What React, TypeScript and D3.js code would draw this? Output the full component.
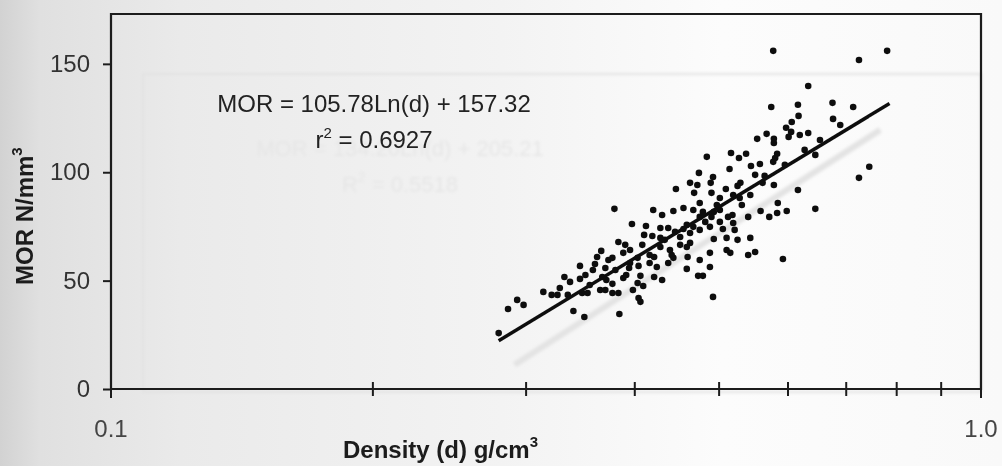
import React, { useEffect, useRef } from "react"
import * as d3 from "d3"

// points (density g/cm3, MOR N/mm2)
const density = [
	0.577, 0.724, 0.78, 0.633, 0.574, 0.616, 0.675, 0.713, 0.676, 0.617,
	0.606, 0.597, 0.605, 0.633, 0.619, 0.601, 0.567, 0.553, 0.578, 0.578,
	0.484, 0.516, 0.527, 0.537, 0.583, 0.58, 0.577, 0.645, 0.557, 0.544,
	0.514, 0.744, 0.724, 0.474, 0.492, 0.489, 0.463, 0.472, 0.446, 0.509,
	0.529, 0.525, 0.49, 0.468, 0.578, 0.616, 0.584, 0.558, 0.571, 0.583,
	0.598, 0.645, 0.54, 0.518, 0.443, 0.455, 0.467, 0.49, 0.512, 0.43,
	0.437, 0.455, 0.55, 0.561,
	0.519, 0.528, 0.501, 0.497, 0.475, 0.42, 0.479, 0.475, 0.501, 0.519,
	0.397, 0.412, 0.459, 0.467, 0.488, 0.505, 0.419, 0.428, 0.451, 0.463,
	0.463, 0.493, 0.51, 0.525, 0.543, 0.408, 0.395, 0.428, 0.439, 0.451,
	0.459, 0.488, 0.51, 0.515, 0.54, 0.55, 0.388, 0.403, 0.421, 0.441,
	0.443, 0.46, 0.395, 0.404, 0.416, 0.424, 0.437, 0.459, 0.488, 0.391,
	0.388, 0.406, 0.421, 0.43, 0.403, 0.409, 0.473, 0.479, 0.398, 0.404,
	0.406, 0.492, 0.592, 0.384, 0.379, 0.383, 0.366, 0.362, 0.373, 0.346,
	0.36, 0.346, 0.332, 0.337, 0.367, 0.371, 0.377, 0.314, 0.321, 0.326,
	0.335, 0.348, 0.377, 0.383, 0.293, 0.298, 0.286, 0.34, 0.35, 0.279,
	0.353, 0.37, 0.38, 0.394, 0.365,
	0.351, 0.358, 0.377, 0.39, 0.41, 0.433, 0.445, 0.482, 0.493, 0.531,
	0.543, 0.564, 0.595, 0.627, 0.653, 0.689, 0.428, 0.475, 0.501, 0.521,
	0.416, 0.37, 0.328, 0.355, 0.475,
]
const mor = [
	156.0, 151.8, 156.0, 139.8, 130.1, 131.1, 132.0, 130.1, 124.6, 126.0,
	123.2, 120.5, 118.6, 118.1, 117.2, 116.3, 117.7, 115.4, 115.4, 113.5,
	107.1, 108.9, 106.6, 108.5, 108.5, 106.6, 104.8, 108.0, 103.8, 102.9,
	101.5, 102.5, 97.4, 99.7, 97.8, 95.1, 95.1, 94.1, 92.3, 92.3,
	95.1, 93.7, 90.5, 90.5, 94.1, 91.8, 85.8, 82.1, 79.4, 81.2,
	82.1, 83.1, 79.4, 80.3, 82.1, 83.5, 82.6, 79.4, 79.4, 80.3,
	74.3, 73.8, 98.8, 95.1,
	89.5, 88.1, 88.1, 84.9, 85.8, 82.6, 81.7, 79.4, 82.6, 76.6,
	76.1, 75.2, 75.7, 74.8, 74.8, 73.8, 70.6, 69.7, 70.1, 72.0,
	67.4, 69.2, 69.7, 68.8, 69.7, 66.5, 64.1, 65.5, 64.1, 66.5,
	65.5, 62.8, 64.1, 62.8, 61.8, 63.2, 62.8, 60.5, 60.9, 61.8,
	60.5, 60.9, 58.1, 56.8, 58.1, 56.3, 58.1, 55.4, 56.3, 52.6,
	51.2, 52.2, 51.7, 50.3, 48.9, 47.5, 52.2, 52.2, 45.7, 42.0,
	40.2, 42.5, 60.0, 34.6, 83.1, 67.8, 63.7, 60.9, 59.5, 56.8,
	57.7, 50.8, 51.7, 49.4, 51.7, 50.3, 48.5, 44.8, 43.4, 43.4,
	43.4, 44.3, 44.3, 44.3, 41.1, 38.8, 36.9, 36.0, 33.2, 25.8,
	44.3, 55.8, 54.9, 55.8, 45.7,
	52.6, 54.9, 60.5, 66.5, 71.1, 68.8, 72.5, 77.1, 81.7, 84.9,
	89.5, 98.3, 103.4, 110.3, 114.9, 121.8, 74.3, 73.4, 77.1, 73.4,
	61.8, 45.7, 46.6, 48.0, 59.5,
]

// log fit shown on the chart
const fitCoef = [105.78, 157.32]
const fitRange = [0.279, 0.785]
const equationText = "MOR = 105.78Ln(d) + 157.32"
const r2Text = " = 0.6927"

// faint show-through of the facing page
const ghostCoef = [112.0, 149.4]
const ghostRange = [0.291, 0.766]
const ghostEquation = "MOR = 134.20Ln(d) + 205.21"
const ghostR2 = " = 0.5518"

const yTicks = [0, 50, 100, 150]
const xTicks = [0.2, 0.3, 0.4, 0.5, 0.6, 0.7, 0.8, 0.9]
const xLabels = [0.1, 1.0]

const W = 1002
const H = 466
const FONT = "'Liberation Sans', Arial, sans-serif"

function App() {
	const ref = useRef<SVGSVGElement>(null)

	useEffect(() => {
		const svg = d3.select(ref.current)
		svg.selectAll("*").remove()

		const x = d3.scaleLog().domain([0.1, 1]).range([111, 981])
		const y = d3.scaleLinear().domain([0, 173]).range([389, 14])

		// paper background
		const defs = svg.append("defs")
		const grad = defs.append("linearGradient").attr("id", "paper")
		const stops: [string, string][] = [
			["0%", "#d2d2d2"],
			["4%", "#e0e0e0"],
			["18%", "#eaeaea"],
			["50%", "#f3f3f3"],
			["72%", "#fcfcfc"],
			["100%", "#f9f9f9"],
		]
		stops.forEach(s => grad.append("stop").attr("offset", s[0]).attr("stop-color", s[1]))
		defs.append("filter").attr("id", "soft").append("feGaussianBlur").attr("stdDeviation", 0.5)
		defs.append("filter").attr("id", "ghostblur").append("feGaussianBlur").attr("stdDeviation", 1.6)

		svg.append("rect").attr("width", W).attr("height", H).attr("fill", "url(#paper)")

		// ghost layer
		const ghost = svg.append("g").attr("filter", "url(#ghostblur)")
		ghost
			.append("rect")
			.attr("x", 143)
			.attr("y", 74)
			.attr("width", 838)
			.attr("height", 318)
			.attr("fill", "none")
			.attr("stroke", "#e2e2e2")
			.attr("stroke-width", 2)
		const ghostLine = d3
			.line<number>()
			.x(d => x(d))
			.y(d => y(ghostCoef[0] * Math.log(d) + ghostCoef[1]))
		ghost
			.append("path")
			.attr("d", ghostLine(ghostRange))
			.attr("stroke", "#e3e3e3")
			.attr("stroke-width", 6)
			.attr("fill", "none")
		ghost
			.append("text")
			.attr("x", 400)
			.attr("y", 156)
			.attr("text-anchor", "middle")
			.attr("font-family", FONT)
			.attr("font-size", 22)
			.attr("fill", "#e6e6e6")
			.text(ghostEquation)
		const gr = ghost
			.append("text")
			.attr("x", 400)
			.attr("y", 192)
			.attr("text-anchor", "middle")
			.attr("font-family", FONT)
			.attr("font-size", 22)
			.attr("fill", "#e6e6e6")
		gr.append("tspan").text("R")
		gr.append("tspan").attr("dy", -10).attr("font-size", 14).text("2")
		gr.append("tspan").attr("dy", 10).text(ghostR2)

		const ink = svg.append("g").attr("filter", "url(#soft)")

		// frame
		ink
			.append("path")
			.attr("d", `M${x(0.1)},${y(0)}V${y(173)}H${x(1)}V${y(0)}Z`)
			.attr("fill", "none")
			.attr("stroke", "#1c1c1c")
			.attr("stroke-width", 2.2)

		// y axis
		const yAxis = d3.axisLeft(y).tickValues(yTicks).tickSize(8).tickPadding(13)
		const ya = ink.append("g").attr("transform", `translate(${x(0.1)},0)`).call(yAxis)
		ya.select(".domain").remove()
		ya.selectAll("line").attr("stroke", "#1c1c1c").attr("stroke-width", 2)
		ya.selectAll("text")
			.attr("font-family", FONT)
			.attr("font-size", 24)
			.attr("fill", "#333")

		// x ticks crossing the axis
		ink
			.selectAll("line.xt")
			.data(xTicks)
			.enter()
			.append("line")
			.attr("x1", d => x(d))
			.attr("x2", d => x(d))
			.attr("y1", y(0) - 7)
			.attr("y2", y(0) + 7)
			.attr("stroke", "#1c1c1c")
			.attr("stroke-width", 2)
		ink
			.selectAll("line.xe")
			.data(xLabels)
			.enter()
			.append("line")
			.attr("x1", d => x(d))
			.attr("x2", d => x(d))
			.attr("y1", y(0))
			.attr("y2", y(0) + 9)
			.attr("stroke", "#1c1c1c")
			.attr("stroke-width", 2)
		ink
			.selectAll("text.xl")
			.data(xLabels)
			.enter()
			.append("text")
			.attr("x", d => x(d))
			.attr("y", 437)
			.attr("text-anchor", "middle")
			.attr("font-family", FONT)
			.attr("font-size", 24)
			.attr("fill", "#444")
			.text(d => d.toFixed(1))

		// axis titles
		const xt = ink
			.append("text")
			.attr("x", 343)
			.attr("y", 458)
			.attr("font-family", FONT)
			.attr("font-size", 24)
			.attr("font-weight", "bold")
			.attr("fill", "#1a1a1a")
		xt.append("tspan").text("Density (d) g/cm")
		xt.append("tspan").attr("dy", -11).attr("font-size", 15).text("3")

		const yt = ink
			.append("text")
			.attr("transform", "translate(33,285) rotate(-90)")
			.attr("font-family", FONT)
			.attr("font-size", 24)
			.attr("font-weight", "bold")
			.attr("fill", "#1a1a1a")
		yt.append("tspan").text("MOR N/mm")
		yt.append("tspan").attr("dy", -11).attr("font-size", 15).text("3")

		// points
		ink
			.selectAll("circle.pt")
			.data(density)
			.enter()
			.append("circle")
			.attr("cx", d => x(d))
			.attr("cy", (d, i) => y(mor[i]))
			.attr("r", 3.3)
			.attr("fill", "#111")

		// fitted line
		const fit = d3
			.line<number>()
			.x(d => x(d))
			.y(d => y(fitCoef[0] * Math.log(d) + fitCoef[1]))
		ink
			.append("path")
			.attr("d", fit(fitRange))
			.attr("stroke", "#0e0e0e")
			.attr("stroke-width", 3.5)
			.attr("fill", "none")

		// equation
		ink
			.append("text")
			.attr("x", 374)
			.attr("y", 112)
			.attr("text-anchor", "middle")
			.attr("font-family", FONT)
			.attr("font-size", 24)
			.attr("fill", "#222")
			.text(equationText)
		const r2 = ink
			.append("text")
			.attr("x", 374)
			.attr("y", 148)
			.attr("text-anchor", "middle")
			.attr("font-family", FONT)
			.attr("font-size", 24)
			.attr("fill", "#222")
		r2.append("tspan").text("r")
		r2.append("tspan").attr("dy", -10).attr("font-size", 15).text("2")
		r2.append("tspan").attr("dy", 10).text(r2Text)
	}, [])

	return (
		<div>
			<style>{"body{margin:0}"}</style>
			<svg ref={ref} width={W} height={H} style={{ display: "block" }} />
		</div>
	)
}

export default App
